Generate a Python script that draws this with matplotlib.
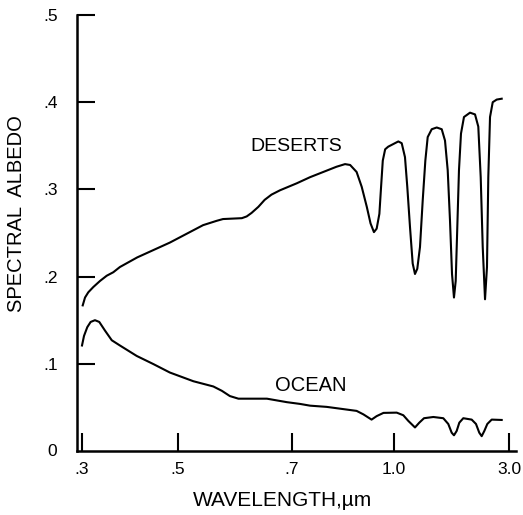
import matplotlib
matplotlib.use("Agg")
import matplotlib.pyplot as plt
import numpy as np

plt.rcParams['font.family'] = ['Liberation Sans', 'DejaVu Sans']

# the original x axis is hand drawn: tick spacing is not a true log or linear scale
tick_wl = [0.3, 0.5, 0.7, 1.0, 3.0]
tick_lbl = [".3", ".5", ".7", "1.0", "3.0"]
scale_wl = [0.25, 0.3, 0.5, 0.7, 1.0, 3.0, 3.5]
scale_pos = [58, 82, 178, 292, 394, 509, 538]

# desert spectral albedo
desert_wl = [0.3015, 0.3063, 0.3131, 0.3235, 0.3375, 0.3515, 0.3652, 0.379, 0.415, 0.483,
             0.544, 0.568, 0.579, 0.612, 0.6205, 0.629, 0.641, 0.652, 0.664, 0.679,
             0.714, 0.753, 0.831, 0.856, 0.871, 0.890, 0.905, 0.920, 0.931, 0.941,
             0.949, 0.957, 0.962, 0.967, 0.974, 0.983, 1.075, 1.134, 1.191, 1.231,
             1.278, 1.325, 1.365, 1.405, 1.452, 1.499, 1.545, 1.586, 1.656, 1.743,
             1.830, 1.887, 1.934, 1.974, 2.009, 2.043, 2.073, 2.101, 2.130, 2.165,
             2.217, 2.322, 2.409, 2.466, 2.508, 2.543, 2.583, 2.617, 2.640, 2.670,
             2.717, 2.786, 2.873]
desert_alb = [0.167, 0.176, 0.182, 0.188, 0.195, 0.201, 0.205, 0.211, 0.222, 0.239,
              0.259, 0.264, 0.266, 0.267, 0.269, 0.273, 0.280, 0.288, 0.294, 0.299,
              0.307, 0.314, 0.326, 0.329, 0.328, 0.320, 0.303, 0.280, 0.261, 0.251,
              0.255, 0.272, 0.303, 0.333, 0.346, 0.349, 0.355, 0.353, 0.337, 0.303,
              0.257, 0.215, 0.203, 0.209, 0.234, 0.287, 0.333, 0.360, 0.369, 0.371,
              0.369, 0.356, 0.322, 0.264, 0.203, 0.176, 0.195, 0.257, 0.322, 0.364,
              0.383, 0.388, 0.386, 0.372, 0.314, 0.234, 0.174, 0.211, 0.314, 0.383,
              0.400, 0.403, 0.404]

# ocean spectral albedo
ocean_wl = [0.300, 0.3042, 0.311, 0.318, 0.327, 0.336, 0.348, 0.362, 0.379, 0.414,
            0.449, 0.483, 0.527, 0.562, 0.577, 0.591, 0.606, 0.626, 0.656, 0.691,
            0.7235, 0.753, 0.802, 0.890, 0.910, 0.934, 0.949, 0.969, 1.047, 1.162,
            1.249, 1.365, 1.44, 1.522, 1.684, 1.857, 1.944, 2.003, 2.043, 2.090,
            2.136, 2.205, 2.351, 2.426, 2.483, 2.525, 2.571, 2.623, 2.699, 2.873]
ocean_alb = [0.121, 0.132, 0.142, 0.148, 0.150, 0.148, 0.138, 0.127, 0.121, 0.109,
             0.0996, 0.090, 0.080, 0.074, 0.069, 0.063, 0.060, 0.060, 0.060, 0.056,
             0.054, 0.052, 0.0506, 0.046, 0.042, 0.036, 0.040, 0.0437, 0.044, 0.041,
             0.0345, 0.027, 0.0325, 0.0376, 0.039, 0.0376, 0.031, 0.021, 0.018, 0.023,
             0.0325, 0.0376, 0.036, 0.031, 0.021, 0.017, 0.023, 0.031, 0.036, 0.0356]


def fwd(w):
    return np.interp(w, scale_wl, scale_pos)


def inv(p):
    return np.interp(p, scale_pos, scale_wl)


fig = plt.figure(figsize=(5.23, 5.15), dpi=100)
ax = fig.add_axes([77 / 523, 1 - 451 / 515, (516 - 77) / 523, (451 - 15) / 515])
ax.set_xscale('function', functions=(fwd, inv))

ax.plot(desert_wl, desert_alb, color='black', lw=1.5, solid_joinstyle='round')
ax.plot(ocean_wl, ocean_alb, color='black', lw=1.5, solid_joinstyle='round')

ax.set_xlim(inv(77), inv(516))
ax.set_ylim(0, 0.5)

ax.set_xticks(tick_wl)
ax.set_xticklabels(tick_lbl)
ax.xaxis.set_minor_locator(matplotlib.ticker.NullLocator())
ax.set_yticks([0.1, 0.2, 0.3, 0.4, 0.5])
ax.set_yticklabels([".1", ".2", ".3", ".4", ".5"])

ax.tick_params(axis='both', direction='in', length=13, width=1.5, labelsize=12.5, pad=8)
ax.tick_params(axis='y', pad=14)
for s in ['top', 'right']:
    ax.spines[s].set_visible(False)
for s in ['left', 'bottom']:
    ax.spines[s].set_linewidth(1.8)

fig.text(52 / 523, 1 - 452 / 515, "0", fontsize=12.5, ha='center', va='center')

ax.text(0.847, 0.349, "DESERTS", fontsize=14, ha='right', va='center')
ax.text(0.859, 0.0747, "OCEAN", fontsize=14.5, ha='right', va='center')

fig.text(283 / 523, 1 - 500 / 515, "WAVELENGTH,\u00b5m", fontsize=15, ha='center', va='center')
fig.text(17 / 523, 1 - 214 / 515, "SPECTRAL  ALBEDO", fontsize=14.5, ha='center', va='center',
         rotation=90)

fig.savefig("out.png", dpi=100)
